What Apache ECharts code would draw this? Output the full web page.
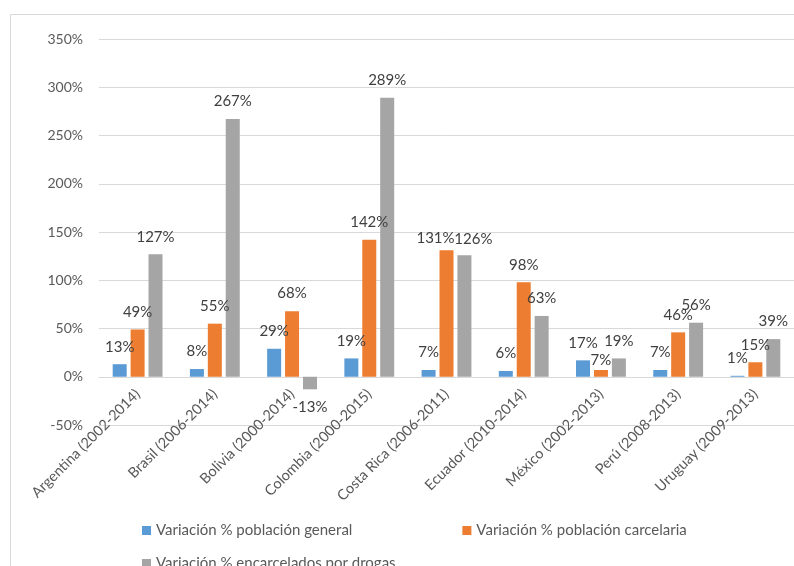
<!DOCTYPE html>
<html>
<head>
<meta charset="utf-8">
<script src="https://cdn.jsdelivr.net/npm/echarts@6/dist/echarts.min.js"></script>
<style>
  html, body { margin: 0; padding: 0; background: #fff; }
  #chart { width: 794px; height: 566px; }
</style>
</head>
<body>
<div id="chart"></div>
<script>
// categorias (pais + periodo)
const categories = [
  "Argentina (2002-2014)", "Brasil (2006-2014)", "Bolivia (2000-2014)",
  "Colombia (2000-2015)", "Costa Rica (2006-2011)", "Ecuador (2010-2014)",
  "México (2002-2013)", "Perú (2008-2013)", "Uruguay (2009-2013)"
];

// series
const seriesNames = [
  "Variación % población general",
  "Variación % población carcelaria",
  "Variación % encarcelados por drogas"
];
const poblacionGeneral = [13, 8, 29, 19, 7, 6, 17, 7, 1];
const poblacionCarcelaria = [49, 55, 68, 142, 131, 98, 7, 46, 15];
const encarceladosDrogas = [127, 267, -13, 289, 126, 63, 19, 56, 39];

// eje y
const yMin = -50;
const yMax = 350;
const yStep = 50;

const colors = ["#5B9BD5", "#ED7D31", "#A5A5A5"];
const font = "Lato, 'Open Sans', sans-serif";

// etiquetas movidas a mano en el original (serie, indice, desplazamiento)
const labelNudges = [
  { s: 1, i: 4, offset: [-11, 5] },
  { s: 2, i: 4, offset: [9, 1] },
  { s: 1, i: 6, offset: [0, 8] }
];

const buildData = (values, s) =>
  values.map((v, i) => {
    const item = { value: v, label: {} };
    if (v < 0) item.label.position = "bottom";
    const n = labelNudges.find((x) => x.s === s && x.i === i);
    if (n) item.label.offset = n.offset;
    return item;
  });

const gridTop = 39;
const gridHeight = 386;
// el eje de categorias cruza en 0
const zeroOffset = -gridHeight * (0 - yMin) / (yMax - yMin);

const chart = echarts.init(document.getElementById("chart"));

const allValues = [poblacionGeneral, poblacionCarcelaria, encarceladosDrogas];

chart.setOption({
  animation: false,
  textStyle: { fontFamily: font },
  graphic: [
    {
      type: "rect",
      shape: { x: 10.5, y: 14.5, width: 900, height: 700 },
      style: { fill: "none", stroke: "#d9d9d9", lineWidth: 1 },
      silent: true
    }
  ],
  grid: {
    left: 99,
    top: gridTop,
    width: 703,
    height: gridHeight,
    containLabel: false
  },
  legend: [
    {
      data: seriesNames.slice(0, 2),
      left: 137,
      top: 518,
      itemWidth: 9,
      itemHeight: 9,
      itemGap: 110,
      icon: "rect",
      textStyle: { color: "#595959", fontSize: 15, fontFamily: font }
    },
    {
      data: seriesNames.slice(2),
      left: 137,
      top: 551,
      itemWidth: 9,
      itemHeight: 9,
      icon: "rect",
      textStyle: { color: "#595959", fontSize: 15, fontFamily: font }
    }
  ],
  xAxis: {
    type: "category",
    data: categories,
    offset: zeroOffset,
    axisLine: { onZero: false, lineStyle: { color: "#d9d9d9" } },
    axisTick: { show: false },
    axisLabel: {
      rotate: 45,
      interval: 0,
      margin: 15,
      color: "#595959",
      fontSize: 14.5,
      fontFamily: font
    }
  },
  yAxis: {
    type: "value",
    min: yMin,
    max: yMax,
    interval: yStep,
    axisLine: { show: false },
    axisTick: { show: false },
    splitLine: { lineStyle: { color: "#d9d9d9", width: 1 } },
    axisLabel: {
      formatter: "{value}%",
      margin: 16,
      color: "#595959",
      fontSize: 14,
      fontFamily: font
    }
  },
  series: allValues.map((vals, s) => ({
    name: seriesNames[s],
    type: "bar",
    data: buildData(vals, s),
    itemStyle: { color: colors[s] },
    barWidth: 14,
    barGap: "28%",
    label: {
      show: true,
      position: "top",
      distance: 10,
      formatter: "{c}%",
      color: "#404040",
      fontSize: 15,
      fontFamily: font
    }
  }))
});
</script>
</body>
</html>
